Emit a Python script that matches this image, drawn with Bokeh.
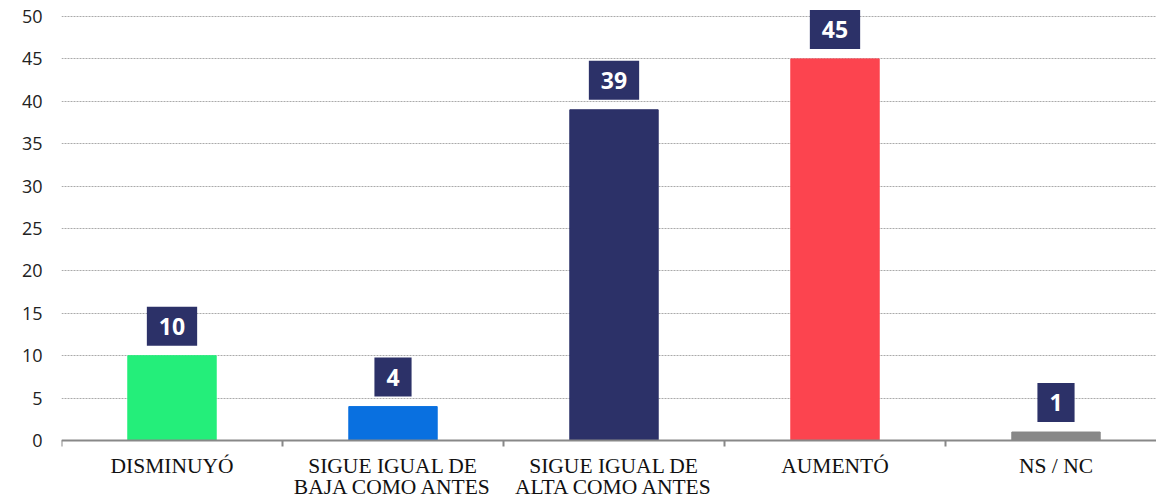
from bokeh.plotting import figure
from bokeh.models import ColumnDataSource, FixedTicker, Range1d, LinearAxis
from bokeh.core.properties import value
from bokeh.embed import file_html
from bokeh.resources import INLINE

categories = ["DISMINUYÓ", "SIGUE IGUAL DE\nBAJA COMO ANTES", "SIGUE IGUAL DE\nALTA COMO ANTES", "AUMENTÓ", "NS / NC"]
values = [10, 4, 39, 45, 1]
colors = ["#24EE7A", "#0970E0", "#2C3168", "#FC444F", "#888888"]
y_ticks = [0, 5, 10, 15, 20, 25, 30, 35, 40, 45, 50]

xs = [i + 0.5 for i in range(len(categories))]
src = ColumnDataSource(dict(x=xs, top=values, color=colors, label=[str(v) for v in values]))

# category-name lines (first / second line of each label)
line1 = [c.split("\n")[0] for c in categories]
line2 = [c.split("\n")[1] if "\n" in c else "" for c in categories]
lab_src = ColumnDataSource(dict(x=xs, l1=line1, l2=line2,
                                y1=[-2.95] * len(xs), y2=[-5.5] * len(xs)))

p = figure(frame_width=1095, frame_height=500, output_backend="svg", toolbar_location=None,
           x_range=Range1d(0, 1095 / 221), y_range=Range1d(-60 / 8.48, 440 / 8.48),
           x_axis_location=None,
           min_border_left=61, min_border_right=0, min_border_top=0, min_border_bottom=0)
p.outline_line_color = None
p.xgrid.grid_line_color = None

p.vbar(x="x", top="top", width=0.4, color="color", source=src)
p.text(x="x", y="top", text="label", source=src, text_align="center", text_baseline="bottom",
       text_color="white", text_font=value("Open Sans"), text_font_style="bold",
       text_font_size="23px", y_offset=-10,
       background_fill_color="#2C3168", padding=dict(left=12, right=12, top=11, bottom=11))

for col, ycol in (("l1", "y1"), ("l2", "y2")):
    p.text(x="x", y=ycol, text=col, source=lab_src, text_align="center",
           text_baseline="alphabetic", text_font=value("Liberation Serif"),
           text_font_size="21.5px", text_color="#111111")

# x axis at y = 0, ticks at category boundaries
xa = LinearAxis(fixed_location=0)
xa.ticker = FixedTicker(ticks=xs, minor_ticks=[0, 1, 2, 3, 4, 5])
xa.major_label_overrides = {x: "" for x in xs}
xa.major_label_text_font_size = "0px"
xa.major_label_standoff = 0
xa.major_tick_out = 0
xa.major_tick_in = 0
xa.minor_tick_out = 6
xa.minor_tick_in = 0
xa.minor_tick_line_color = "#888888"
xa.minor_tick_line_width = 2
xa.axis_line_color = "#888888"
xa.axis_line_width = 2
p.add_layout(xa, "below")

# y axis
ya = p.yaxis[0]
ya.ticker = FixedTicker(ticks=y_ticks)
ya.axis_line_color = None
ya.major_tick_out = 0
ya.major_tick_in = 0
ya.minor_tick_out = 0
ya.minor_tick_in = 0
ya.major_tick_line_color = None
ya.minor_tick_line_color = None
ya.major_label_text_font = "Open Sans"
ya.major_label_text_font_size = "18px"
ya.major_label_text_color = "#222222"
ya.major_label_standoff = 19
p.ygrid.grid_line_color = "#AAAAAA"
p.ygrid.grid_line_dash = "2 1"
p.ygrid.grid_line_width = 1

open("out.html", "w").write(file_html(p, INLINE))
